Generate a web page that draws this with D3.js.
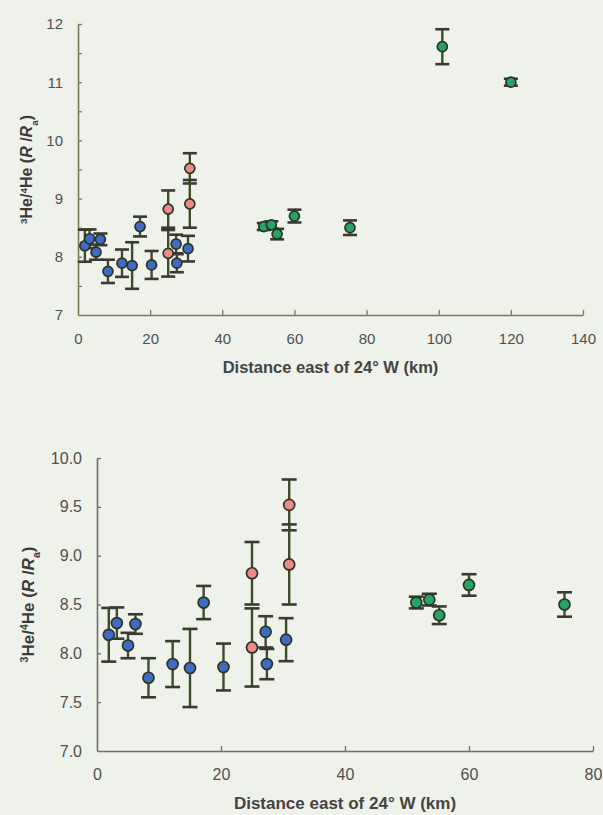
<!DOCTYPE html>
<html>
<head>
<meta charset="utf-8">
<script src="https://cdn.jsdelivr.net/npm/d3@7"></script>
<style>
  html, body { margin: 0; padding: 0; background: #eff1eb; }
  svg { display: block; }
  text { font-family: "Liberation Sans", Arial, Helvetica, sans-serif; }
</style>
</head>
<body>
<svg id="chart" width="603" height="815"></svg>
<script>
// Helium isotope ratios (R/Ra) with 1-sigma uncertainties, by distance east of 24° W (km)
const blueDistance = [1.9, 3.2, 5.0, 6.2, 8.3, 12.2, 15.0, 17.2, 20.4, 27.2, 27.4, 30.5];
const blueRatio    = [8.19, 8.31, 8.08, 8.30, 7.75, 7.89, 7.85, 8.52, 7.86, 8.22, 7.89, 8.14];
const blueError    = [0.275, 0.16, 0.13, 0.10, 0.20, 0.235, 0.40, 0.17, 0.24, 0.16, 0.155, 0.22];

const redDistance = [25.0, 25.0, 31.0, 31.0];
const redRatio    = [8.82, 8.06, 9.52, 8.91];
const redError    = [0.32, 0.40, 0.26, 0.41];

const greenDistance = [51.5, 53.6, 55.2, 60.0, 75.4, 101.0, 120.0];
const greenRatio    = [8.52, 8.55, 8.39, 8.70, 8.50, 11.61, 11.00];
const greenError    = [0.06, 0.06, 0.09, 0.11, 0.125, 0.30, 0.06];

// Axis ticks for the full-range panel and the zoomed panel
const fullXTicks = [0, 20, 40, 60, 80, 100, 120, 140];
const fullYTicks = [7, 7.5, 8, 8.5, 9, 9.5, 10, 10.5, 11, 11.5, 12];
const zoomXTicks = [0, 20, 40, 60, 80];
const zoomYTicks = [7.0, 7.5, 8.0, 8.5, 9.0, 9.5, 10.0];

const groups = [
  { fill: "#3f6cc2", dist: blueDistance, ratio: blueRatio, err: blueError },
  { fill: "#ee8a8c", dist: redDistance, ratio: redRatio, err: redError },
  { fill: "#26a466", dist: greenDistance, ratio: greenRatio, err: greenError }
];

const svg = d3.select("#chart");

function drawPanel(cfg) {
  const x = d3.scaleLinear().domain(cfg.xDomain).range([cfg.left, cfg.right]);
  const y = d3.scaleLinear().domain(cfg.yDomain).range([cfg.bottom, cfg.top]);
  const g = svg.append("g");

  // x axis
  const xAxis = g.append("g")
    .attr("transform", `translate(0,${cfg.bottom})`)
    .call(d3.axisBottom(x).tickValues(cfg.xTicks).tickSize(-5).tickSizeOuter(0)
      .tickPadding(cfg.xPad).tickFormat(d3.format("d")));
  // y axis
  const yAxis = g.append("g")
    .attr("transform", `translate(${cfg.left},0)`)
    .call(d3.axisLeft(y).tickValues(cfg.yTicks).tickSize(-4).tickSizeOuter(0)
      .tickPadding(15).tickFormat(cfg.yFormat));

  [xAxis, yAxis].forEach(a => {
    a.select(".domain").attr("stroke", cfg.axisColor).attr("stroke-width", 1.6);
    a.selectAll(".tick line").attr("stroke", cfg.axisColor).attr("stroke-width", 1.3);
    a.selectAll(".tick text").attr("fill", "#505050").attr("font-size", cfg.tickFont)
      .attr("font-family", "Liberation Sans, Arial, sans-serif");
  });
  yAxis.selectAll(".tick").filter(d => d === cfg.yDomain[0]).select("line").remove();
  xAxis.selectAll(".tick").filter(d => d === cfg.xDomain[0]).select("line").remove();

  // points within the panel's distance range
  const pts = [];
  groups.forEach(gr => {
    gr.dist.forEach((d, i) => {
      if (d <= cfg.xDomain[1]) pts.push({ d, r: gr.ratio[i], e: gr.err[i], fill: gr.fill });
    });
  });

  // error bars
  const bars = g.append("g");
  pts.forEach(p => {
    const cx = x(p.d);
    bars.append("line")
      .attr("x1", cx).attr("x2", cx)
      .attr("y1", y(p.r - p.e)).attr("y2", y(p.r + p.e))
      .attr("stroke", "#3d4d2a").attr("stroke-width", 2.4);
    [p.r - p.e, p.r + p.e].forEach(v => {
      bars.append("line")
        .attr("x1", cx - cfg.cap).attr("x2", cx + cfg.cap)
        .attr("y1", y(v)).attr("y2", y(v))
        .attr("stroke", "#3a3a34").attr("stroke-width", 2.6);
    });
  });

  // markers
  g.append("g").selectAll("circle").data(pts).join("circle")
    .attr("cx", p => x(p.d)).attr("cy", p => y(p.r)).attr("r", cfg.radius)
    .attr("fill", p => p.fill).attr("stroke", "#2c3424").attr("stroke-width", 1.7);

  // axis titles
  g.append("text")
    .attr("x", (cfg.left + cfg.right) / 2).attr("y", cfg.xTitleY)
    .attr("text-anchor", "middle").attr("font-weight", "bold")
    .attr("font-size", cfg.titleFont).attr("fill", "#444")
    .text("Distance east of 24° W (km)");

  const fs = cfg.yTitleFont;
  const t = g.append("text")
    .attr("transform", `translate(${cfg.yTitleX},${(cfg.top + cfg.bottom) / 2}) rotate(-90)`)
    .attr("text-anchor", "middle").attr("font-weight", "bold")
    .attr("font-size", fs).attr("fill", "#3c3c3c");
  t.append("tspan").attr("baseline-shift", "super").attr("font-size", fs * 0.62).text("3");
  t.append("tspan").text("He/");
  t.append("tspan").attr("baseline-shift", "super").attr("font-size", fs * 0.62).text("4");
  t.append("tspan").text("He (");
  t.append("tspan").attr("font-style", "italic").text("R");
  t.append("tspan").text(" /");
  t.append("tspan").attr("font-style", "italic").text("R");
  t.append("tspan").attr("baseline-shift", "sub").attr("font-size", fs * 0.62).text("a");
  t.append("tspan").text(")");
}

drawPanel({
  xDomain: [0, 140], yDomain: [7, 12],
  left: 78, right: 583, top: 24, bottom: 315,
  xTicks: fullXTicks, yTicks: fullYTicks,
  yFormat: d => Number.isInteger(d) ? d3.format("d")(d) : "",
  xPad: 18, tickFont: 15, titleFont: 16.5, yTitleFont: 16,
  xTitleY: 373, yTitleX: 32, axisColor: "#7a7b58",
  radius: 5, cap: 7
});

drawPanel({
  xDomain: [0, 80], yDomain: [7, 10],
  left: 97, right: 593, top: 458, bottom: 751,
  xTicks: zoomXTicks, yTicks: zoomYTicks,
  yFormat: d3.format(".1f"),
  xPad: 18, tickFont: 16, titleFont: 17, yTitleFont: 17,
  xTitleY: 809, yTitleX: 34, axisColor: "#6e6f66",
  radius: 5.5, cap: 7.5
});
</script>
</body>
</html>
